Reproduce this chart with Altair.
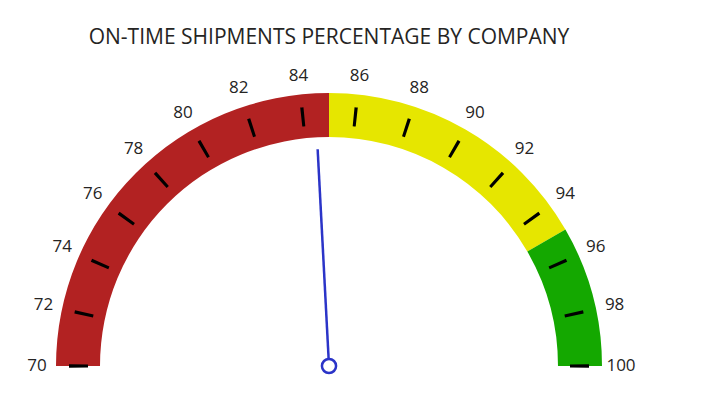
import math
import altair as alt
import pandas as pd

# ---- data ----
band_start = [70, 85, 95]
band_end = [85, 95, 100]
band_name = ["low", "mid", "high"]
band_color = ["#B22222", "#E6E600", "#14A800"]

tick_values = [70, 72, 74, 76, 78, 80, 82, 84, 86, 88, 90, 92, 94, 96, 98, 100]
needle_value = [84.5]

TITLE = "ON-TIME SHIPMENTS PERCENTAGE BY COMPANY"

# ---- geometry / style ----
TOP = 50
W, H = 642, 386 - TOP
CX, CY = 321, 366 - 8 - TOP
R_OUT, R_IN = 273, 229
TICK_OUT, TICK_IN = 260, 241
LABEL_R = 292
NEEDLE_LEN = 217
TEXT = "#252423"
NEEDLE = "#2B34C8"
FONT = "Open Sans"

theta_scale = alt.Scale(domain=[70, 100], range=[1.5 * math.pi, 2.5 * math.pi])

bands = pd.DataFrame({"start": band_start, "end": band_end, "band": band_name})
ticks = pd.DataFrame({"value": tick_values})
needle = pd.DataFrame({"value": needle_value})

band_layer = alt.Chart(bands).mark_arc(radius=R_OUT, radius2=R_IN).encode(
    theta=alt.Theta("start:Q", scale=theta_scale, stack=False),
    theta2="end:Q",
    color=alt.Color("band:N", scale=alt.Scale(domain=band_name, range=band_color), legend=None),
    x=alt.value(CX),
    y=alt.value(CY),
)

tick_layer = alt.Chart(ticks).transform_calculate(
    t0="datum.value - 0.06", t1="datum.value + 0.06"
).mark_arc(radius=TICK_OUT, radius2=TICK_IN, color="black").encode(
    theta=alt.Theta("t0:Q", scale=theta_scale, stack=False),
    theta2="t1:Q",
    x=alt.value(CX),
    y=alt.value(CY),
)

label_layer = alt.Chart(ticks).mark_text(
    radius=LABEL_R, fontSize=17, font=FONT, color=TEXT, align="center", baseline="middle"
).encode(
    theta=alt.Theta("value:Q", scale=theta_scale, stack=False),
    text=alt.Text("value:Q", format="d"),
    x=alt.value(CX),
    y=alt.value(CY),
)

needle_layer = alt.Chart(needle).mark_point(
    shape="M0,0L0,-1", filled=False, stroke=NEEDLE, strokeWidth=2.5, opacity=1,
    size=(2 * NEEDLE_LEN) ** 2,
).encode(
    angle=alt.Angle("value:Q", scale=alt.Scale(domain=[70, 100], range=[270, 450])),
    x=alt.value(CX),
    y=alt.value(CY),
)

hub_layer = alt.Chart(needle).mark_point(
    shape="circle", filled=True, fill="white", stroke=NEEDLE, strokeWidth=2.5, opacity=1, size=200,
).encode(
    x=alt.value(CX),
    y=alt.value(CY),
)

chart = alt.layer(band_layer, tick_layer, label_layer, needle_layer, hub_layer).properties(
    width=W,
    height=H,
    autosize=alt.AutoSizeParams(type="none"),
    padding={"left": 0, "top": TOP, "right": 0, "bottom": 0},
    title=alt.TitleParams(TITLE, fontSize=21, font=FONT, fontWeight="normal",
                          color=TEXT, anchor="middle", offset=10),
).configure_view(stroke=None)

chart.save("out.html", embed_options={"renderer": "svg", "actions": False})
